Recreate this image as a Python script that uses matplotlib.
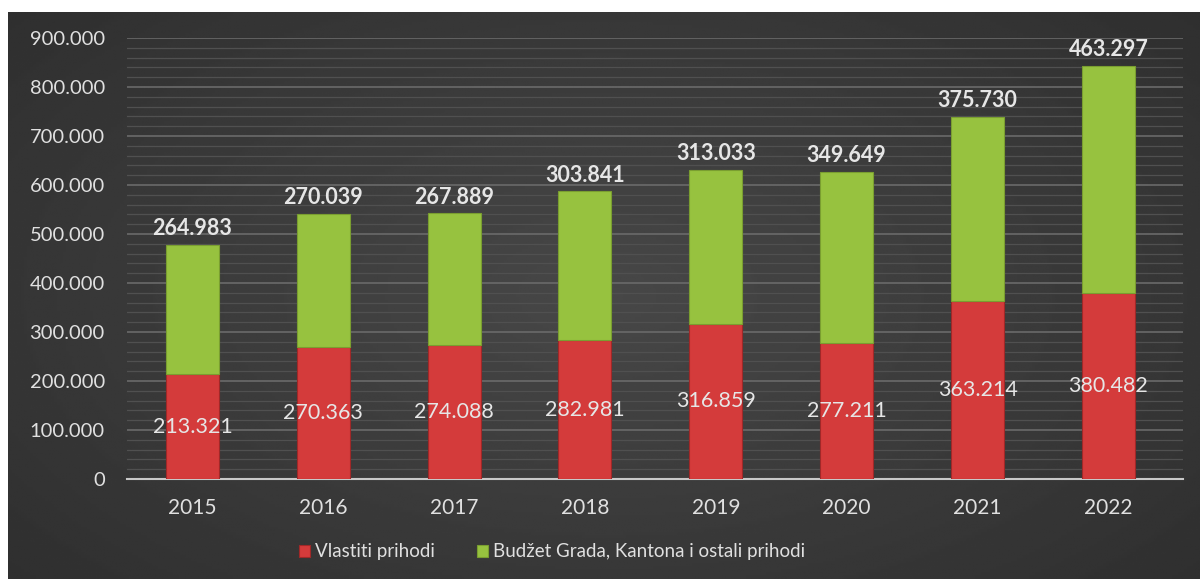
import numpy as np
import matplotlib.pyplot as plt
from matplotlib.ticker import FuncFormatter, MultipleLocator

# Data
years = ['2015', '2016', '2017', '2018', '2019', '2020', '2021', '2022']
vlastiti = [213321, 270363, 274088, 282981, 316859, 277211, 363214, 380482]
budzet = [264983, 270039, 267889, 303841, 313033, 349649, 375730, 463297]

plt.rcParams['font.family'] = ['Lato', 'DejaVu Sans']

fig = plt.figure(figsize=(12, 5.79), dpi=100)
fig.patch.set_facecolor('white')

# dark gradient background
bg = fig.add_axes([8 / 1200, 0, 1 - 8 / 1200, 567 / 579])
yy, xx = np.mgrid[-1:1:200j, -1:1:400j]
r = np.sqrt((xx * 0.9) ** 2 + (yy * 0.8) ** 2)
bg.imshow(0.28 - 0.11 * np.clip(r, 0, 1.4) / 1.4, cmap='gray', vmin=0, vmax=1,
          aspect='auto', extent=[0, 1, 0, 1])
bg.set_axis_off()

ax = fig.add_axes([127 / 1200, 100 / 579, (1183 - 127) / 1200, (541 - 100) / 579])
ax.set_facecolor('none')

x = np.arange(len(years))
w = 0.405
red = '#d43b3b'
green = '#97c23f'
b1 = ax.bar(x, vlastiti, w, color=red, edgecolor='#a02828', linewidth=0.8,
            label='Vlastiti prihodi', zorder=3)
b2 = ax.bar(x, budzet, w, bottom=vlastiti, color=green, edgecolor='#7a9e30',
            linewidth=0.8, label='Budžet Grada, Kantona i ostali prihodi', zorder=3)

def fmt(v):
    return f'{v:,.0f}'.replace(',', '.')

for i in range(len(years)):
    ax.text(x[i], vlastiti[i] / 2, fmt(vlastiti[i]), ha='center', va='center',
            color='#e6e6e6', fontsize=15.5, zorder=4)
    ax.text(x[i], vlastiti[i] + budzet[i] + 12000, fmt(budzet[i]), ha='center',
            va='bottom', color='#e6e6e6', fontsize=15.5, fontweight='bold', zorder=4)

ax.set_ylim(0, 900000)
ax.set_xlim(-0.5, 7.57)
ax.yaxis.set_major_locator(MultipleLocator(100000))
ax.yaxis.set_minor_locator(MultipleLocator(20000))
ax.yaxis.set_major_formatter(FuncFormatter(lambda v, p: fmt(v)))
ax.grid(axis='y', which='major', color='#6a6a6a', linewidth=1.2, zorder=0)
ax.grid(axis='y', which='minor', color='#505050', linewidth=0.9, zorder=0)
ax.set_xticks(x)
ax.set_xticklabels(years)
ax.tick_params(axis='both', which='both', length=0, colors='#e0e0e0')
ax.tick_params(axis='y', labelsize=14.5, pad=16)
ax.tick_params(axis='x', labelsize=15, pad=14)
for s in ['top', 'right', 'left']:
    ax.spines[s].set_visible(False)
ax.spines['bottom'].set_color('#c8c8c8')
ax.spines['bottom'].set_linewidth(1.5)

leg = fig.legend(handles=[b1, b2], loc='center', bbox_to_anchor=(0.46, 27 / 579), ncol=2,
                 frameon=False, fontsize=13.5, handlelength=0.6, handleheight=0.6,
                 handletextpad=0.3, columnspacing=2.2)
for t in leg.get_texts():
    t.set_color('#e0e0e0')

fig.savefig('out.png', dpi=100, facecolor=fig.get_facecolor())
